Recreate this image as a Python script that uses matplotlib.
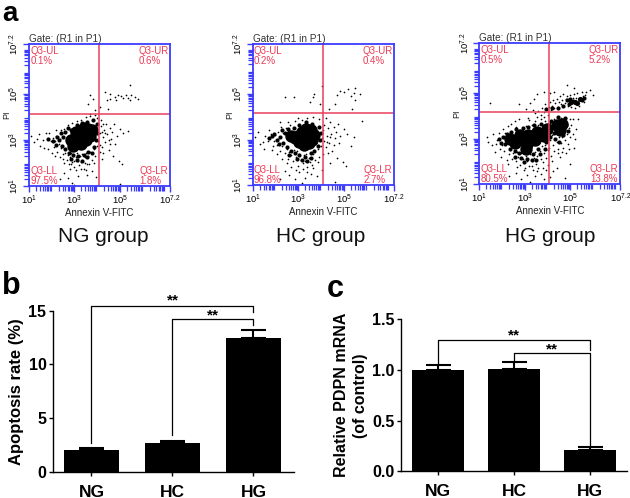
import numpy as np
import matplotlib
matplotlib.use('Agg')
import matplotlib.pyplot as plt
from matplotlib.ticker import LogLocator, NullFormatter

plt.rcParams['font.family'] = ['Liberation Sans', 'DejaVu Sans']
plt.rcParams['mathtext.fontset'] = 'custom'
plt.rcParams['mathtext.rm'] = 'Liberation Sans'

# flow plots, points as (log10 Annexin, log10 PI)
# *_dense are the solid black centres of the clouds, *_mid the clumps round them
ng_dense = [(3.30, 3.25), (3.00, 2.95), (3.60, 3.50), (2.85, 3.00), (3.75, 3.45), (3.05, 3.35),
            (3.50, 3.00), (3.30, 2.85), (3.70, 3.20), (3.40, 3.55), (3.15, 3.10), (2.95, 2.75)]
ng_mid = [(2.30, 3.00), (2.45, 2.75), (2.50, 3.15), (2.60, 3.35), (2.60, 2.60), (2.75, 2.45),
          (2.85, 3.45), (2.95, 2.35), (3.10, 3.65), (3.15, 2.30), (3.35, 3.75), (3.40, 2.35),
          (3.60, 2.50), (3.55, 3.80), (3.85, 2.70), (3.95, 3.00), (4.00, 3.30), (4.00, 3.70),
          (3.80, 3.90), (2.20, 2.80), (2.05, 2.95), (1.85, 3.05), (2.40, 3.30), (3.10, 2.15),
          (3.35, 2.10), (2.85, 2.20), (3.75, 2.45), (2.25, 3.15), (2.70, 3.55), (3.55, 2.25)]
ng_dots = [(5.43, 5.40), (4.33, 5.10), (4.55, 5.03), (4.92, 4.99), (5.28, 4.99), (5.50, 4.96),
           (5.65, 4.89), (5.80, 4.81), (4.77, 4.89), (4.84, 4.74), (4.41, 4.74), (4.55, 4.78),
           (5.43, 4.74), (4.11, 4.45), (3.68, 4.96), (3.82, 4.81), (3.60, 4.60), (3.89, 4.30),
           (3.68, 4.16), (4.48, 4.38), (5.05, 4.92), (5.15, 4.85), (5.35, 4.85),
           (1.10, 3.20), (1.35, 3.05), (1.50, 2.75), (1.60, 3.00), (1.75, 3.30), (1.45, 3.25),
           (1.85, 2.60), (1.95, 2.95), (2.05, 3.10), (2.10, 2.70), (2.15, 2.95), (2.20, 3.20),
           (2.25, 2.50), (2.30, 2.85), (2.35, 3.05), (2.40, 2.65), (2.45, 3.30), (2.50, 2.40),
           (2.50, 2.20), (2.60, 2.45), (2.65, 2.15), (2.70, 2.35), (2.75, 1.95), (2.80, 2.25),
           (2.85, 2.45), (2.90, 2.05), (2.95, 2.30), (3.00, 1.85), (3.05, 2.25), (3.10, 2.45),
           (3.15, 2.10), (3.20, 1.90), (3.25, 2.30), (3.30, 2.05), (3.35, 2.40), (3.40, 1.75),
           (3.45, 2.25), (3.50, 2.45), (3.55, 1.95), (3.60, 2.30), (3.70, 2.50), (3.75, 2.15),
           (3.85, 2.60), (3.90, 2.30), (4.00, 2.75), (2.55, 1.55), (2.70, 1.35), (2.90, 1.15),
           (3.15, 1.45), (3.55, 1.50), (3.75, 1.65), (3.95, 1.40), (2.35, 1.30), (3.00, 1.05),
           (4.05, 2.95), (4.10, 3.30), (4.15, 3.60), (4.20, 2.70), (4.25, 3.15), (4.30, 3.45),
           (4.35, 2.90), (4.40, 3.70), (4.45, 3.25), (4.50, 2.55), (4.55, 3.55), (4.60, 3.05),
           (4.65, 3.35), (4.70, 2.30), (4.75, 3.70), (4.80, 2.85), (4.85, 3.20), (4.95, 2.10),
           (5.00, 3.50), (5.10, 1.95), (5.15, 3.30), (5.35, 3.40), (5.00, 1.10), (4.20, 2.20),
           (2.55, 3.50), (2.70, 3.65), (2.90, 3.75), (3.10, 3.85), (3.30, 3.90), (3.50, 4.00),
           (3.70, 4.05), (3.90, 4.10), (2.40, 3.45), (4.00, 3.95), (4.15, 3.90), (2.20, 3.45),
           (1.20, 2.90), (1.65, 2.65), (1.90, 3.30), (2.00, 2.45), (2.15, 2.30), (2.35, 2.25),
           (2.55, 2.00), (2.80, 1.75), (3.05, 1.70), (3.30, 1.75), (3.50, 1.70), (3.65, 1.95),
           (2.85, 1.95), (3.00, 2.10), (3.45, 2.00), (3.85, 2.00), (4.10, 2.50), (4.25, 2.45),
           (4.35, 3.30), (4.50, 3.00), (4.20, 3.35), (4.10, 2.80), (4.25, 3.70), (4.55, 2.85)]

hc_dense = [(3.30, 3.10), (3.05, 2.90), (3.55, 3.40), (2.85, 3.05), (3.70, 3.20), (3.15, 3.35),
            (3.45, 2.85), (3.25, 2.75), (3.60, 3.00), (2.70, 3.15), (3.35, 3.45), (3.00, 3.15)]
hc_mid = [(2.20, 3.10), (2.35, 2.85), (2.40, 3.30), (2.50, 2.65), (2.55, 3.45), (2.70, 2.50),
          (2.80, 3.50), (2.85, 2.40), (3.05, 3.65), (3.05, 2.30), (3.35, 3.75), (3.30, 2.25),
          (3.55, 2.40), (3.60, 3.70), (3.85, 2.70), (3.95, 3.00), (4.00, 3.30), (3.90, 3.55),
          (2.05, 3.00), (1.85, 3.15), (1.70, 3.05), (2.30, 3.40), (3.15, 2.10), (3.40, 2.05),
          (2.95, 2.15), (3.70, 2.50), (2.15, 2.80), (2.60, 2.30), (3.55, 2.20), (1.95, 3.25)]
hc_dots = [(5.50, 5.25), (5.20, 5.20), (4.85, 5.15), (5.00, 5.10), (5.45, 5.05), (5.70, 5.00),
           (4.70, 4.95), (5.30, 4.90), (5.50, 4.75), (4.60, 4.55), (5.35, 4.35), (4.05, 5.35),
           (3.70, 5.00), (2.40, 4.85), (2.80, 4.85), (3.50, 4.65), (3.65, 4.85), (3.95, 4.55),
           (4.35, 4.35), (5.80, 3.80), (4.20, 3.95),
           (1.10, 3.10), (1.30, 2.80), (1.50, 2.60), (1.55, 3.15), (1.70, 3.40), (1.65, 2.95),
           (1.80, 3.25), (1.85, 2.55), (1.95, 2.95), (2.00, 3.20), (2.05, 2.75), (2.10, 3.35),
           (2.15, 3.05), (2.20, 2.50), (2.25, 3.55), (2.30, 2.70), (2.35, 3.30), (2.40, 2.40),
           (2.45, 3.50), (2.50, 2.60), (2.55, 2.15), (2.60, 2.45), (2.65, 3.65), (2.70, 2.30),
           (2.75, 2.05), (2.80, 2.55), (2.85, 3.80), (2.90, 2.25), (2.95, 2.50), (3.00, 1.85),
           (3.05, 2.35), (3.10, 2.10), (3.15, 3.85), (3.20, 1.95), (3.25, 2.30), (3.30, 2.05),
           (3.35, 2.35), (3.40, 1.80), (3.45, 2.20), (3.50, 2.00), (3.55, 2.40), (3.60, 1.90),
           (3.65, 2.35), (3.70, 2.50), (3.75, 2.10), (3.85, 2.60), (3.90, 2.25), (4.00, 2.70),
           (2.40, 1.60), (2.60, 1.45), (2.85, 1.25), (3.05, 1.55), (3.30, 1.30), (3.55, 1.50),
           (3.80, 1.40), (2.20, 1.25), (4.05, 1.65), (4.60, 1.15), (3.15, 1.10),
           (4.05, 3.05), (4.10, 3.40), (4.15, 3.65), (4.20, 2.65), (4.25, 3.15), (4.30, 3.50),
           (4.35, 2.85), (4.40, 3.75), (4.45, 3.25), (4.50, 2.50), (4.55, 3.55), (4.60, 3.05),
           (4.65, 3.35), (4.70, 2.20), (4.75, 3.70), (4.80, 2.85), (4.85, 3.15), (4.95, 2.00),
           (5.00, 3.45), (5.10, 1.85), (5.15, 3.25), (5.30, 2.70), (5.45, 3.10), (4.40, 1.95),
           (3.40, 3.95), (3.65, 4.00), (3.90, 3.90), (2.20, 3.75), (2.55, 3.75), (3.00, 3.95),
           (1.25, 3.35), (1.45, 2.90), (1.90, 2.70), (2.05, 2.35), (2.30, 2.15), (2.50, 1.95),
           (2.70, 1.80), (2.90, 1.65), (3.20, 1.70), (3.40, 1.55), (3.65, 1.75), (3.85, 2.00),
           (4.10, 2.35), (4.25, 2.90), (4.40, 3.10), (4.15, 2.95), (4.30, 2.40), (4.55, 2.75)]

hg_dense = [(2.35, 2.99), (2.72, 2.92), (3.08, 2.77), (3.45, 2.92), (3.74, 3.21), (3.96, 3.43),
            (3.16, 3.14), (2.79, 3.14), (3.52, 3.28), (4.40, 3.58), (4.62, 3.65), (4.55, 3.36),
            (3.05, 2.55), (2.55, 2.80), (3.30, 3.00), (3.85, 3.10)]
hg_mid = [(2.05, 3.05), (2.15, 2.75), (2.20, 3.20), (2.35, 2.55), (2.40, 3.30), (2.55, 2.45),
          (2.60, 3.40), (2.75, 2.35), (2.90, 3.45), (2.85, 2.15), (3.15, 3.50), (3.10, 2.10),
          (3.35, 2.30), (3.30, 2.05), (3.40, 3.60), (3.60, 2.55), (3.65, 2.30), (3.70, 3.65),
          (3.95, 2.85), (4.10, 3.05), (4.15, 3.75), (4.30, 3.25), (4.15, 3.45), (4.35, 3.00),
          (4.80, 3.60), (4.90, 3.35), (4.70, 3.15), (4.45, 3.95), (4.75, 3.90), (1.85, 3.00),
          (1.95, 2.80), (2.55, 2.20), (2.95, 1.95), (3.50, 2.05), (3.90, 2.55), (4.50, 2.85),
          (4.95, 4.50), (5.10, 4.65), (4.70, 4.45), (5.50, 4.70), (4.45, 4.35), (4.20, 4.35),
          (5.60, 4.80), (4.85, 4.70), (3.95, 4.30), (5.00, 4.75)]
hg_core = [(5.20, 4.60), (5.43, 4.75), (5.05, 4.62), (5.30, 4.55)]
hg_dots = [(1.35, 3.05), (1.55, 2.70), (1.60, 3.20), (1.70, 2.40), (1.80, 2.95), (1.85, 3.25),
           (1.95, 2.20), (2.00, 2.70), (2.05, 3.40), (2.10, 2.45), (2.15, 3.25), (2.20, 2.05),
           (2.25, 3.55), (2.30, 2.30), (2.35, 2.55), (2.40, 3.65), (2.45, 2.10), (2.50, 2.35),
           (2.55, 3.75), (2.60, 2.00), (2.65, 2.40), (2.70, 2.20), (2.75, 3.85), (2.80, 1.85),
           (2.85, 2.35), (2.90, 2.10), (2.95, 2.45), (3.00, 1.70), (3.05, 2.25), (3.10, 2.00),
           (3.15, 3.90), (3.20, 1.80), (3.25, 2.30), (3.30, 2.05), (3.35, 1.60), (3.40, 2.15),
           (3.45, 2.40), (3.50, 1.90), (3.55, 2.25), (3.60, 1.70), (3.65, 2.45), (3.70, 2.10),
           (3.75, 2.65), (3.80, 1.95), (3.85, 2.35), (3.90, 2.70), (3.95, 2.15), (4.00, 2.50),
           (2.30, 1.35), (2.60, 1.50), (2.85, 1.20), (3.10, 1.40), (3.25, 1.10), (3.45, 1.35),
           (3.70, 1.45), (3.85, 1.20), (4.10, 1.30), (4.75, 1.25), (4.40, 1.70), (5.00, 1.90),
           (4.05, 2.60), (4.10, 2.95), (4.15, 2.25), (4.20, 3.15), (4.25, 2.70), (4.30, 2.45),
           (4.35, 3.00), (4.40, 2.85), (4.45, 2.55), (4.50, 3.05), (4.55, 2.20), (4.60, 2.80),
           (4.65, 3.05), (4.70, 2.60), (4.75, 2.95), (4.80, 2.35), (4.85, 3.20), (4.90, 2.75),
           (4.95, 3.45), (5.00, 3.05), (5.05, 3.60), (5.10, 3.85), (5.15, 2.60), (5.25, 3.40),
           (5.35, 3.85), (5.00, 3.85), (4.80, 3.90), (4.60, 3.90), (4.30, 3.85), (4.10, 3.70),
           (3.60, 3.60), (3.70, 3.85), (3.80, 3.60), (3.85, 3.95), (3.90, 3.75), (3.45, 3.75),
           (3.30, 3.60), (3.05, 3.55), (3.20, 3.80), (2.90, 3.45), (2.60, 3.50), (3.55, 3.95),
           # band over the horizontal gate
           (3.45, 4.10), (3.60, 4.20), (3.70, 4.05), (3.75, 4.35), (3.85, 4.15), (3.90, 4.50),
           (3.95, 4.25), (4.00, 4.05), (4.05, 4.40), (4.10, 4.60), (4.15, 4.25), (4.20, 4.45),
           (4.25, 4.70), (4.30, 4.35), (4.35, 4.55), (4.40, 4.75), (4.45, 4.40), (4.50, 4.60),
           (4.55, 4.85), (4.60, 4.50), (4.65, 4.70), (4.70, 4.95), (4.75, 4.55), (4.80, 4.75),
           (4.85, 4.85), (4.90, 4.45), (4.95, 4.65), (5.00, 4.90), (5.05, 4.40), (5.10, 4.80),
           (5.15, 4.95), (5.20, 4.35), (5.25, 4.80), (5.30, 5.00), (5.40, 4.45), (5.50, 5.05),
           (5.55, 4.85), (5.60, 4.60), (5.70, 5.05), (5.85, 5.15), (6.00, 4.90), (5.65, 4.90),
           (3.25, 4.55), (3.40, 4.75), (3.55, 4.95), (3.85, 5.05), (4.30, 5.05), (4.85, 5.35),
           (3.05, 4.30), (2.75, 4.50), (1.45, 4.55), (3.35, 4.25), (4.10, 5.00), (5.15, 5.20),
           (1.40, 2.85), (1.75, 2.75), (1.90, 2.55), (2.25, 1.90), (2.65, 1.75), (2.95, 1.60),
           (3.30, 1.80), (3.55, 1.55), (3.80, 1.70), (4.00, 1.85), (4.20, 2.00), (4.45, 2.35),
           (4.65, 2.40), (4.95, 2.55), (5.10, 3.20), (5.20, 3.00), (4.25, 1.55), (3.95, 1.60)]

flow_titles = ['NG group', 'HC group', 'HG group']
flow_q = [['0.1%', '0.6%', '97.5%', '1.8%'],
          ['0.2%', '0.4%', '96.8%', '2.7%'],
          ['0.5%', '5.2%', '80.5%', '13.8%']]
gate_x = 4.08
gate_y = 4.16

# bar charts
groups = ['NG', 'HC', 'HG']
apoptosis = [2.0, 2.7, 12.5]
apoptosis_err = [0.2, 0.2, 0.7]
pdpn = [1.0, 1.01, 0.21]
pdpn_err = [0.05, 0.07, 0.03]

W, H = 630, 498
blue = '#3c3cff'
red = '#e8405c'
q_col = '#ee3a55'


def px_axes(left, top, right, bottom):
    return fig.add_axes([left / W, 1 - bottom / H, (right - left) / W, (bottom - top) / H])


def flow_panel(box, dense, mid, dots, q, title, title_x, core=None):
    ax = px_axes(*box)
    ax.set_xscale('log')
    ax.set_yscale('log')
    ax.set_xlim(10, 10**7.2)
    ax.set_ylim(10, 10**7.2)
    d = 10 ** np.array(dense)
    m = 10 ** np.array(mid)
    p = 10 ** np.array(dots)
    ax.scatter(d[:, 0], d[:, 1], s=80, c='black', lw=0)
    ax.scatter(m[:, 0], m[:, 1], s=9, c='black', lw=0)
    if core is not None:
        c = 10 ** np.array(core)
        ax.scatter(c[:, 0], c[:, 1], s=14, c='black', lw=0)
    ax.scatter(p[:, 0], p[:, 1], s=1.5, c='black', lw=0)
    ax.axvline(10**gate_x, color=red, lw=1.1)
    ax.axhline(10**gate_y, color=red, lw=1.1)
    for s in ax.spines.values():
        s.set_color(blue)
        s.set_linewidth(1.3)
    pos = [1, 3, 5, 7.2]
    labs = [r'$\mathregular{10^{%s}}$' % str(v) for v in pos]
    ax.set_xticks([10.0**v for v in pos], labs)
    ax.set_yticks([10.0**v for v in pos], labs)
    for axis in (ax.xaxis, ax.yaxis):
        axis.set_minor_locator(LogLocator(base=10, subs=np.arange(2, 10), numticks=20))
        axis.set_minor_formatter(NullFormatter())
    ax.tick_params(which='major', length=4, width=1.0, color=blue, labelsize=6.8, pad=1.5)
    ax.tick_params(which='minor', length=3.5, width=0.9, color=blue)
    for t in ax.get_yticklabels():
        t.set_rotation(90)
        t.set_va('center')
    ax.set_xlabel('Annexin V-FITC', fontsize=7, labelpad=0.5, color='#222222')
    ax.set_ylabel('PI', fontsize=6.5, color='#222222', va='center')
    ax.yaxis.set_label_coords(-0.16, 0.5)
    ax.text(0, 0.998, 'Gate: (R1 in P1)', transform=ax.transAxes, fontsize=7.2,
            color='#333333', va='bottom')
    ax.text(0.008, 0.985, 'Q3-UL\n' + q[0], transform=ax.transAxes, fontsize=7, color=q_col,
            va='top', linespacing=0.95)
    ax.text(0.775, 0.985, 'Q3-UR\n' + q[1], transform=ax.transAxes, fontsize=7, color=q_col,
            va='top', linespacing=0.95)
    ax.text(0.008, 0.0, 'Q3-LL\n' + q[2], transform=ax.transAxes, fontsize=7, color=q_col,
            va='bottom', linespacing=0.95)
    ax.text(0.785, 0.0, 'Q3-LR\n' + q[3], transform=ax.transAxes, fontsize=7, color=q_col,
            va='bottom', linespacing=0.95)
    fig.text(title_x / W, 1 - 237 / H, title, fontsize=15, ha='center', va='center', color='#111111')


def bar_panel(box, vals, errs, xlim, ylim, ticks, ticklabels, ylabel, ylabel_fs, spacing=1.0):
    ax = px_axes(*box)
    x = np.arange(len(vals))
    ax.bar(x, vals, width=0.68, color='black')
    ax.errorbar(x, vals, yerr=[np.zeros(3), errs], fmt='none', ecolor='black',
                elinewidth=1.5, capsize=9, capthick=1.5)
    ax.set_xlim(*xlim)
    ax.set_ylim(*ylim)
    ax.spines['top'].set_visible(False)
    ax.spines['right'].set_visible(False)
    ax.spines['left'].set_linewidth(1.0)
    ax.spines['bottom'].set_linewidth(1.0)
    ax.set_xticks(x, groups, fontweight='bold', fontsize=12.5)
    ax.set_yticks(ticks, ticklabels, fontweight='bold', fontsize=11.5)
    ax.tick_params(axis='x', length=3, width=1, pad=6)
    ax.tick_params(axis='y', length=3, width=1, pad=1.5)
    ax.set_ylabel(ylabel, fontweight='bold', fontsize=ylabel_fs, labelpad=3, linespacing=spacing)
    return ax


def bracket(ax, x0, x1, y_top, y0, y1, star_y):
    ax.plot([x0, x0, x1, x1], [y0, y_top, y_top, y1], color='black', lw=0.9, clip_on=False)
    ax.text((x0 + x1) / 2, star_y, '**', fontsize=11, fontweight='bold', ha='center', va='center')


fig = plt.figure(figsize=(W / 100, H / 100), dpi=100)

flow_panel((29, 44, 170, 186), ng_dense, ng_mid, ng_dots, flow_q[0], flow_titles[0], 103)
flow_panel((252.7, 44, 394, 185), hc_dense, hc_mid, hc_dots, flow_q[1], flow_titles[1], 321)
flow_panel((479.3, 43, 620.3, 184), hg_dense, hg_mid, hg_dots, flow_q[2], flow_titles[2], 550, core=hg_core)

ax_b = bar_panel((52.7, 310.7, 294, 472), apoptosis, apoptosis_err, (-0.479, 2.5), (0, 15),
                 [0, 5, 10, 15], ['0', '5', '10', '15'], 'Apoptosis rate (%)', 12)
bracket(ax_b, 0, 2, 15.47, 2.7, 14.9, 15.95)
bracket(ax_b, 1, 2, 14.2, 3.4, 13.7, 14.6)

ax_c = bar_panel((401, 319.3, 627, 471.3), pdpn, pdpn_err, (-0.487, 2.49), (0, 1.5),
                 [0, 0.5, 1.0, 1.5], ['0.0', '0.5', '1.0', '1.5'],
                 'Relative PDPN mRNA\n(of control)', 11.5, spacing=1.35)
bracket(ax_c, 0, 2, 1.296, 1.07, 1.197, 1.34)
bracket(ax_c, 1, 2, 1.164, 1.09, 0.26, 1.2)

fig.text(2 / W, 1 - 14 / H, 'a', fontsize=20, fontweight='bold', va='center')
fig.text(2 / W, 1 - 286 / H, 'b', fontsize=22, fontweight='bold', va='center')
fig.text(327 / W, 1 - 289 / H, 'c', fontsize=22, fontweight='bold', va='center')

fig.savefig('out.png', dpi=100)
